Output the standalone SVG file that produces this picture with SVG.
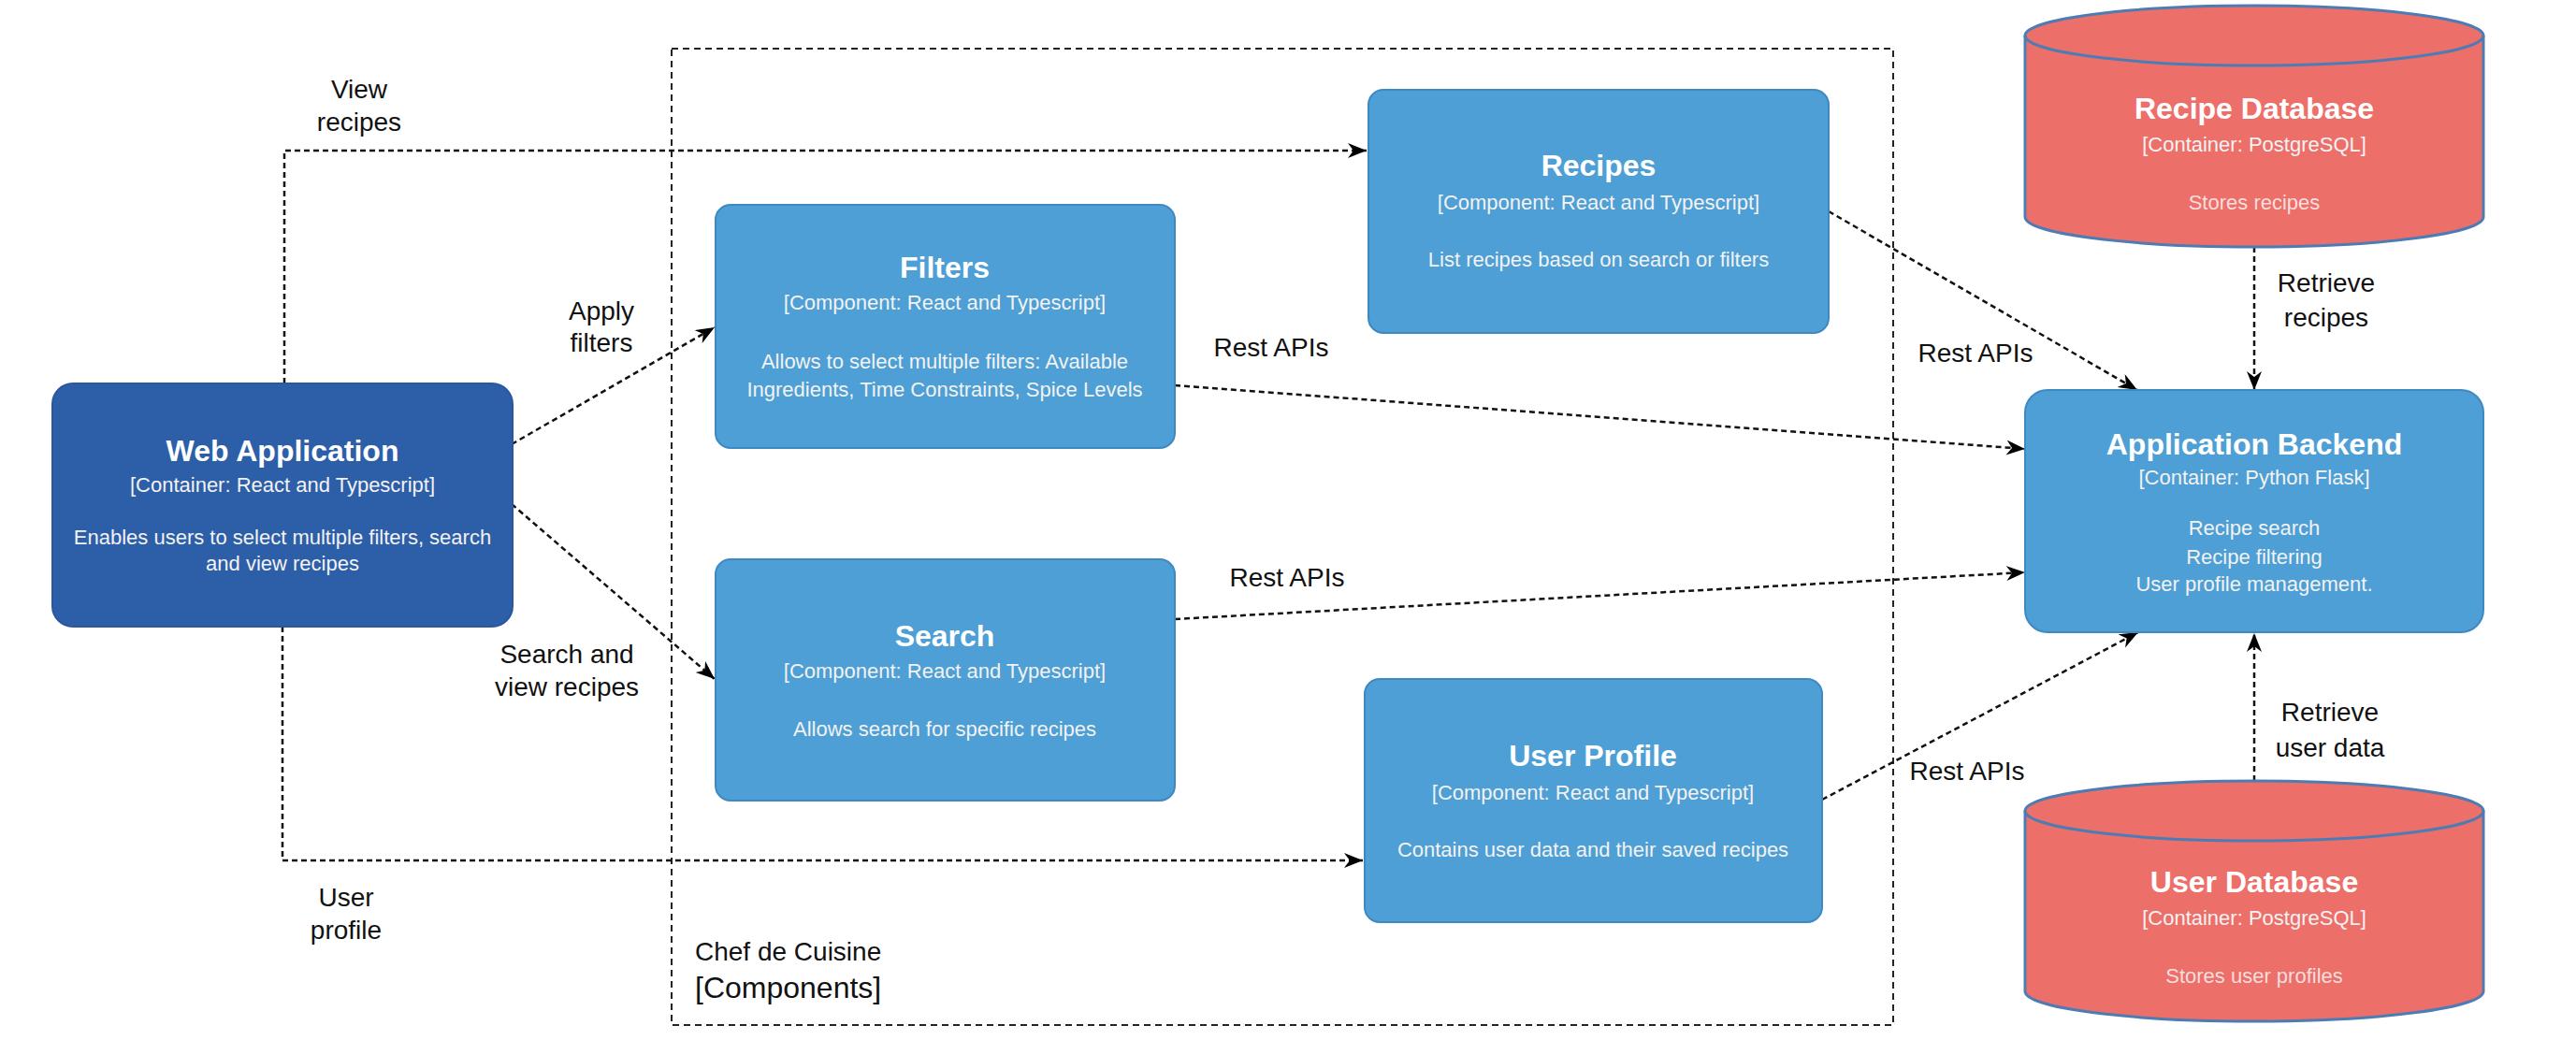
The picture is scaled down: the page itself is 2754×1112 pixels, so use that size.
<svg xmlns="http://www.w3.org/2000/svg" width="2754" height="1112" viewBox="0 0 2754 1112">
<style>
.lbl{font-family:"Liberation Sans",Arial,sans-serif;font-size:28px;fill:#111;text-anchor:middle}
.t{font-family:"Liberation Sans",Arial,sans-serif;font-size:32px;font-weight:bold;fill:#fff;text-anchor:middle}
.s{font-family:"Liberation Sans",Arial,sans-serif;font-size:22px;fill:#F2F2F2;text-anchor:middle}
.comp{fill:#4E9FD5;stroke:#3F89C3;stroke-width:2}
.cont{fill:#2D5EA8;stroke:#2A58A0;stroke-width:2}
.db{fill:#ED6F6A;stroke:#4D7CB4;stroke-width:3}
.conn{fill:none;stroke:#111;stroke-width:2.5;stroke-dasharray:6 4;marker-end:url(#arr)}
.bound{fill:none;stroke:#222;stroke-width:2;stroke-dasharray:7 5}
</style>
<defs>
<marker id="arr" markerUnits="userSpaceOnUse" markerWidth="22" markerHeight="18" refX="20" refY="8" orient="auto">
<path d="M0,0 L20,8 L0,16 L6,8 Z" fill="#000"/>
</marker>
</defs>
<rect width="2754" height="1112" fill="#fff"/>
<g id="boundary">
<rect class="bound" x="718" y="52" width="1306" height="1044"/>
<text class="lbl" x="743" y="1027" style="text-anchor:start">Chef de Cuisine</text>
<text class="lbl" x="743" y="1067" style="text-anchor:start;font-size:32px">[Components]</text>
</g>
<g id="connectors">
<path class="conn" d="M304,410 V161 H1461"/>
<path class="conn" d="M547,475 L764,350"/>
<path class="conn" d="M547,539 L764,726"/>
<path class="conn" d="M302,670 V920 H1457"/>
<path class="conn" d="M1256,412 L2165,480"/>
<path class="conn" d="M1256,662 L2165,612"/>
<path class="conn" d="M1955,226 L2285,417"/>
<path class="conn" d="M1948,855 L2286,676"/>
<path class="conn" d="M2410,264 V417"/>
<path class="conn" d="M2410,835 V677"/>
<text class="lbl" x="384" y="105">View</text>
<text class="lbl" x="384" y="140">recipes</text>
<text class="lbl" x="643" y="342">Apply</text>
<text class="lbl" x="643" y="376">filters</text>
<text class="lbl" x="606" y="709">Search and</text>
<text class="lbl" x="606" y="744">view recipes</text>
<text class="lbl" x="370" y="969">User</text>
<text class="lbl" x="370" y="1004">profile</text>
<text class="lbl" x="1359" y="381">Rest APIs</text>
<text class="lbl" x="1376" y="627">Rest APIs</text>
<text class="lbl" x="2112" y="387">Rest APIs</text>
<text class="lbl" x="2103" y="834">Rest APIs</text>
<text class="lbl" x="2487" y="312">Retrieve</text>
<text class="lbl" x="2487" y="349">recipes</text>
<text class="lbl" x="2491" y="771">Retrieve</text>
<text class="lbl" x="2491" y="809">user data</text>
</g>
<g id="web-application">
<rect class="cont" x="56" y="410" width="492" height="260" rx="22"/>
<text class="t" x="302" y="493">Web Application</text>
<text class="s" x="302" y="526">[Container: React and Typescript]</text>
<text class="s" x="302" y="582">Enables users to select multiple filters, search</text>
<text class="s" x="302" y="610">and view recipes</text>
</g>
<g id="filters">
<rect class="comp" x="765" y="219" width="491" height="260" rx="16"/>
<text class="t" x="1010" y="297">Filters</text>
<text class="s" x="1010" y="331">[Component: React and Typescript]</text>
<text class="s" x="1010" y="394">Allows to select multiple filters: Available</text>
<text class="s" x="1010" y="424">Ingredients, Time Constraints, Spice Levels</text>
</g>
<g id="recipes">
<rect class="comp" x="1463" y="96" width="492" height="260" rx="16"/>
<text class="t" x="1709" y="188">Recipes</text>
<text class="s" x="1709" y="224">[Component: React and Typescript]</text>
<text class="s" x="1709" y="285">List recipes based on search or filters</text>
</g>
<g id="search">
<rect class="comp" x="765" y="598" width="491" height="258" rx="16"/>
<text class="t" x="1010" y="691">Search</text>
<text class="s" x="1010" y="725">[Component: React and Typescript]</text>
<text class="s" x="1010" y="787">Allows search for specific recipes</text>
</g>
<g id="user-profile">
<rect class="comp" x="1459" y="726" width="489" height="260" rx="16"/>
<text class="t" x="1703" y="819">User Profile</text>
<text class="s" x="1703" y="855">[Component: React and Typescript]</text>
<text class="s" x="1703" y="916">Contains user data and their saved recipes</text>
</g>
<g id="application-backend">
<rect class="comp" x="2165" y="417" width="490" height="259" rx="24"/>
<text class="t" x="2410" y="486">Application Backend</text>
<text class="s" x="2410" y="518">[Container: Python Flask]</text>
<text class="s" x="2410" y="572">Recipe search</text>
<text class="s" x="2410" y="603">Recipe filtering</text>
<text class="s" x="2410" y="632">User profile management.</text>
</g>
<g id="recipe-database">
<path class="db" d="M2165,38 A245,32 0 0,1 2655,38 V232 A245,32 0 0,1 2165,232 Z"/>
<path class="db" style="fill:none" d="M2165,38 A245,32 0 0,0 2655,38"/>
<text class="t" x="2410" y="127">Recipe Database</text>
<text class="s" x="2410" y="162">[Container: PostgreSQL]</text>
<text class="s" x="2410" y="224" style="fill:#F6DEDC">Stores recipes</text>
</g>
<g id="user-database">
<path class="db" d="M2165,867 A245,32 0 0,1 2655,867 V1060 A245,32 0 0,1 2165,1060 Z"/>
<path class="db" style="fill:none" d="M2165,867 A245,32 0 0,0 2655,867"/>
<text class="t" x="2410" y="954">User Database</text>
<text class="s" x="2410" y="989">[Container: PostgreSQL]</text>
<text class="s" x="2410" y="1051" style="fill:#F6DEDC">Stores user profiles</text>
</g>
</svg>
